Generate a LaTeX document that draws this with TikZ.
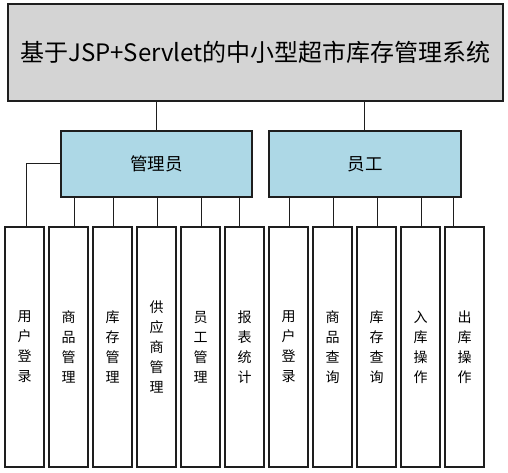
\documentclass[tikz,border=0pt]{standalone}
\usepackage{fontspec}
\setmainfont{Noto Sans CJK SC}
\definecolor{topgray}{HTML}{D4D4D4}
\definecolor{roleblue}{HTML}{ADD8E6}
\definecolor{edge}{HTML}{1E1E1E}
\begin{document}
\begin{tikzpicture}[x=1pt,y=-1pt,
  box/.style={draw=edge,line width=1.1pt,inner sep=0pt,anchor=center},
  topbox/.style={box,fill=topgray,minimum width=495pt,minimum height=97pt,font=\fontsize{24}{26}\selectfont},
  rolebox/.style={box,fill=roleblue,minimum width=191pt,minimum height=66pt,font=\fontsize{17.5}{20}\selectfont},
  leafbox/.style={box,fill=white,minimum width=39pt,minimum height=240pt,align=center,font=\fontsize{14}{20}\selectfont},
  link/.style={draw=edge,line width=1pt}]
\useasboundingbox (0,0) rectangle (508,473);
\node[topbox] (top) at (255.5,52.5) {基于JSP+Servlet的中小型超市库存管理系统};
\node[rolebox] (mgr) at (156.5,164) {管理员};
\node[rolebox,minimum width=192pt] (emp) at (365,164) {员工};
\node[leafbox] (l1) at (24.5,347) {用\\户\\登\\录};
\node[leafbox] (l2) at (68.5,347) {商\\品\\管\\理};
\node[leafbox] (l3) at (112.5,347) {库\\存\\管\\理};
\node[leafbox] (l4) at (156.5,347) {供\\应\\商\\管\\理};
\node[leafbox] (l5) at (200.5,347) {员\\工\\管\\理};
\node[leafbox] (l6) at (244.5,347) {报\\表\\统\\计};
\node[leafbox] (l7) at (288.5,347) {用\\户\\登\\录};
\node[leafbox] (l8) at (332.5,347) {商\\品\\查\\询};
\node[leafbox] (l9) at (376.5,347) {库\\存\\查\\询};
\node[leafbox] (l10) at (420.5,347) {入\\库\\操\\作};
\node[leafbox] (l11) at (464.5,347) {出\\库\\操\\作};
\coordinate (c1) at (26,0);
\coordinate (c2) at (74,0);
\coordinate (c3) at (113,0);
\coordinate (c4) at (157,0);
\coordinate (c5) at (201,0);
\coordinate (c6) at (239,0);
\coordinate (c7) at (289,0);
\coordinate (c8) at (333,0);
\coordinate (c9) at (377,0);
\coordinate (c10) at (421,0);
\coordinate (c11) at (453,0);
\draw[link] (top.south -| mgr.north) -- (mgr.north);
\draw[link] (top.south -| emp.north) ++(-1,0) -- ([xshift=-1pt]emp.north);
\draw[link] (mgr.west) -| (c1 |- l1.north);
\foreach \i in {2,...,6}{\draw[link] (mgr.south -| c\i) -- (l\i.north -| c\i);}
\foreach \i in {7,...,11}{\draw[link] (emp.south -| c\i) -- (l\i.north -| c\i);}
\end{tikzpicture}
\end{document}
